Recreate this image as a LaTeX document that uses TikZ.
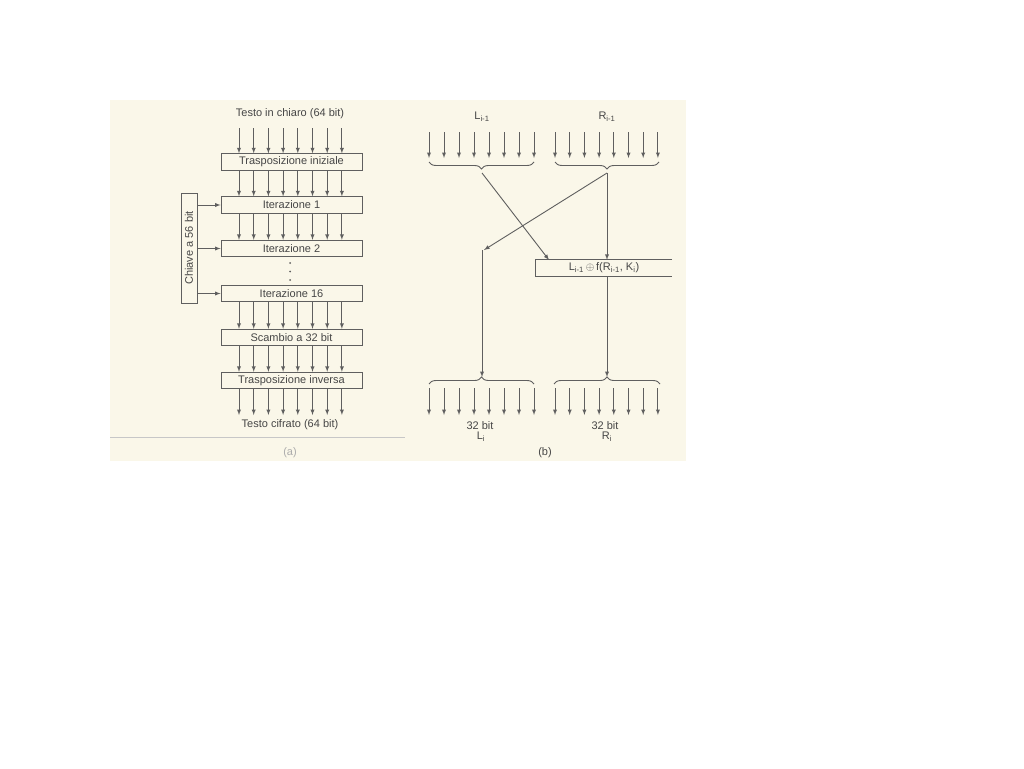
\documentclass[tikz,border=0pt]{standalone}
\usepackage{fontspec}
\setmainfont{Liberation Sans}
\usetikzlibrary{positioning,arrows,decorations.pathreplacing}
\definecolor{scan}{RGB}{250,247,233}
\definecolor{ink}{RGB}{95,95,95}
\definecolor{inktext}{RGB}{70,70,70}

\begin{document}
\begin{tikzpicture}[x=1pt,y=1pt,
  box/.style={draw=ink,line width=0.9pt,minimum width=141pt,minimum height=16.5pt,inner sep=0pt},
  arr/.style={draw=ink,line width=0.9pt,-latex},
  brc/.style={draw=ink,line width=0.9pt,decorate,decoration={brace,amplitude=7pt}}]
\tikzstyle{every node}+=[font=\fontsize{11}{12}\selectfont,text=inktext,inner sep=0pt]
\useasboundingbox (0,0) rectangle (1024,-768);
\fill [white] (0,0) rectangle (1024,-768);
\fill [scan] (110,-100) rectangle (686,-461);
% (a)
\node (plain) at (290,-114) {Testo in chiaro (64 bit)};
\node (tin) [box] at (291.5,-162) {Trasposizione iniziale};
\node (it1) [box] at (291.5,-205) {Iterazione 1};
\node (it2) [box] at (291.5,-248.5) {Iterazione 2};
\node (it16) [box] at (291.5,-293.5) {Iterazione 16};
\node (swap) [box] at (291.5,-337.5) {Scambio a 32 bit};
\node (tinv) [box] at (291.5,-380.5) {Trasposizione inversa};
\node (ciph) at (290,-425) {Testo cifrato (64 bit)};
\coordinate (intop) at (290,-128);
\coordinate (inbot) at (290,-415);
\foreach \x in {239,253.7,268.4,283.1,297.8,312.5,327.2,341.9} {
  \draw [arr] (\x,0 |- intop) -- (\x,0 |- tin.north);
  \draw [arr] (\x,0 |- tin.south) -- (\x,0 |- it1.north);
  \draw [arr] (\x,0 |- it1.south) -- (\x,0 |- it2.north);
  \draw [arr] (\x,0 |- it16.south) -- (\x,0 |- swap.north);
  \draw [arr] (\x,0 |- swap.south) -- (\x,0 |- tinv.north);
  \draw [arr] (\x,0 |- tinv.south) -- (\x,0 |- inbot);
}
\fill [ink] (290,-263) circle (1);
\fill [ink] (290,-271.5) circle (1);
\fill [ink] (290,-280) circle (1);
\node (key) [box,rotate=90,minimum width=110pt,minimum height=16pt] at (189,-248) {Chiave a 56 bit};
\draw [arr] (key.south |- it1) -- (it1.west);
\draw [arr] (key.south |- it2) -- (it2.west);
\draw [arr] (key.south |- it16) -- (it16.west);
\draw [ink!35,line width=0.6pt] (110,-437) -- (405,-437);
\node (capa) [text=inktext!45] at (290,-453) {(a)};
% (b)
\node (lin) at (482,-117) {L\textsubscript{i-1}};
\node (rin) at (607,-117) {R\textsubscript{i-1}};
\coordinate (toprow) at (0,-132);
\coordinate (topend) at (0,-158);
\coordinate (botrow) at (0,-388);
\coordinate (botend) at (0,-415);
\foreach \x in {429,444,459,474,489,504,519,534,555,569.7,584.4,599.1,613.8,628.5,643.2,657.9} {
  \draw [arr] (\x,0 |- toprow) -- (\x,0 |- topend);
  \draw [arr] (\x,0 |- botrow) -- (\x,0 |- botend);
}
\draw [brc] (534,-162) -- (429,-162);
\draw [brc] (659,-162) -- (555,-162);
\draw [brc] (429,-384) -- (534,-384);
\draw [brc] (554,-384) -- (660,-384);
\coordinate (ltop) at (482,-173);
\coordinate (rtop) at (607,-173);
\coordinate (lbot) at (482,-377);
\coordinate (rbot) at (607,-377);
\node (fbox) [minimum width=136pt,minimum height=16pt] at (604,-268) {L\textsubscript{i-1}\,$\oplus$\,f(R\textsubscript{i-1}, K\textsubscript{i})};
\draw [ink,line width=0.9pt] (fbox.north east) -- (fbox.north west) -- (fbox.south west) -- (fbox.south east);
\coordinate (fin) at (549,-260);
\coordinate (lturn) at (484,-250);
\draw [arr] (ltop) -- (fin);
\draw [arr] (rtop) -- (rtop |- fbox.north);
\draw [arr] (rtop) -- (lturn);
\draw [arr] (lbot |- lturn) -- (lbot);
\draw [arr] (rtop |- fbox.south) -- (rbot);
\node (lbits) at (480,-426) {32 bit};
\node (lout) at (481,-437) {L\textsubscript{i}};
\node (rbits) at (605,-426) {32 bit};
\node (rout) at (607,-437) {R\textsubscript{i}};
\node (capb) at (545,-453) {(b)};
\end{tikzpicture}
\end{document}
